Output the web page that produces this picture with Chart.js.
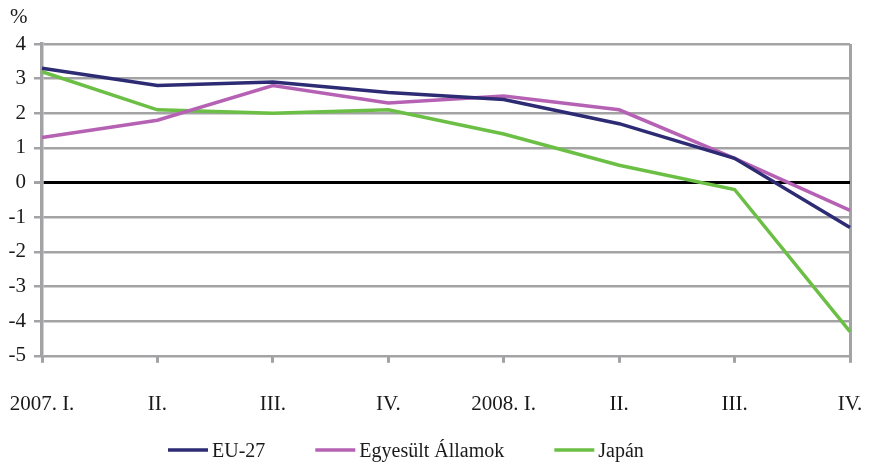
<!DOCTYPE html>
<html>
<head>
<meta charset="utf-8">
<script src="https://cdn.jsdelivr.net/npm/chart.js@4"></script>
<style>
  html, body { margin: 0; padding: 0; background: #fff; }
  canvas { display: block; }
</style>
</head>
<body>
<canvas id="mainChart" width="876" height="468"></canvas>
<script>
const categories = ['2007. I.', 'II.', 'III.', 'IV.', '2008. I.', 'II.', 'III.', 'IV.'];
const seriesNames = ['EU-27', 'Egyesült Államok', 'Japán'];
const eu27 = [3.3, 2.8, 2.9, 2.6, 2.4, 1.7, 0.7, -1.3];
const usa = [1.3, 1.8, 2.8, 2.3, 2.5, 2.1, 0.7, -0.8];
const japan = [3.2, 2.1, 2.0, 2.1, 1.4, 0.5, -0.2, -4.3];
const yTicks = [4, 3, 2, 1, 0, -1, -2, -3, -4, -5];

const FONT = '"Liberation Serif", "DejaVu Serif", serif';
const GRID = '#a3a3a6';
const TEXT = '#1a1a1a';

document.addEventListener('DOMContentLoaded', function () {
    const ctx = document.getElementById('mainChart').getContext('2d');

    // "%" above the y axis + legend row at the bottom
    const extras = {
        id: 'extras',
        afterDraw: (chart) => {
            const c = chart.ctx;
            c.save();
            c.font = '21px ' + FONT;
            c.fillStyle = TEXT;
            c.textAlign = 'left';
            c.textBaseline = 'middle';
            c.fillText('%', 10, 17);

            c.font = '20px ' + FONT;
            let x = 168;
            const y = 450;
            chart.data.datasets.forEach(ds => {
                c.strokeStyle = ds.borderColor;
                c.lineWidth = 3.5;
                c.beginPath();
                c.moveTo(x, y);
                c.lineTo(x + 40, y);
                c.stroke();
                x += 44;
                c.fillStyle = TEXT;
                c.fillText(ds.label, x, y + 2);
                x += c.measureText(ds.label).width + 50;
            });
            c.restore();
        }
    };

    new Chart(ctx, {
        type: 'line',
        data: {
            labels: categories,
            datasets: [
                { label: seriesNames[0], data: eu27, borderColor: '#2d2b73' },
                { label: seriesNames[1], data: usa, borderColor: '#b662b4' },
                { label: seriesNames[2], data: japan, borderColor: '#6cbf45' }
            ].map(d => Object.assign(d, { borderWidth: 3.5, pointRadius: 0, tension: 0, fill: false }))
        },
        options: {
            responsive: false,
            animation: false,
            layout: { autoPadding: false, padding: { top: 44, right: 26, left: 0, bottom: 22 } },
            plugins: {
                legend: { display: false },
                tooltip: { enabled: false }
            },
            scales: {
                x: {
                    offset: false,
                    afterFit: axis => { axis.paddingLeft = 0; axis.paddingRight = 0; },
                    grid: {
                        color: c => c.index === categories.length - 1 ? GRID : 'rgba(0,0,0,0)',
                        tickColor: GRID,
                        lineWidth: 3,
                        tickLength: 7
                    },
                    border: { display: false },
                    ticks: {
                        font: { family: FONT, size: 21 },
                        color: TEXT,
                        padding: 29,
                        maxRotation: 0
                    }
                },
                y: {
                    min: -5,
                    max: 4,
                    afterBuildTicks: axis => { axis.ticks = yTicks.map(v => ({ value: v })); },
                    afterFit: axis => { axis.width = 42; },
                    grid: {
                        color: c => c.tick && c.tick.value === 0 ? '#000' : GRID,
                        lineWidth: c => c.tick && c.tick.value === 0 ? 3 : 2.5,
                        tickColor: GRID,
                        tickLength: 8
                    },
                    border: { color: GRID, width: 3.5 },
                    ticks: {
                        font: { family: FONT, size: 21 },
                        color: TEXT,
                        padding: 8
                    }
                }
            }
        },
        plugins: [extras]
    });
});
</script>
</body>
</html>
